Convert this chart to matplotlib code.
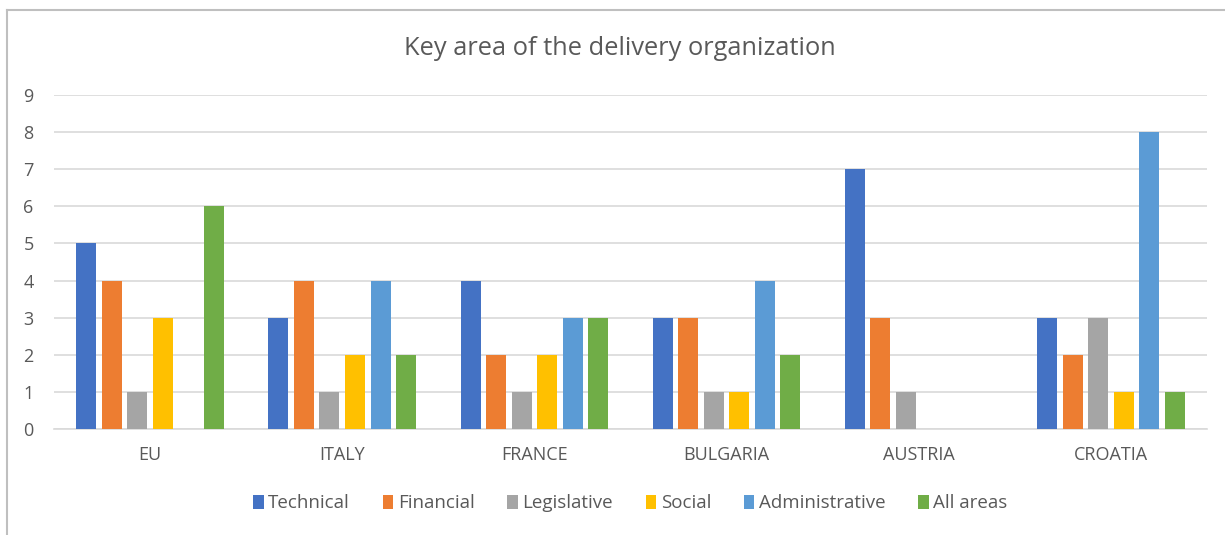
import numpy as np
import matplotlib.pyplot as plt
from matplotlib.lines import Line2D

# chart data
countries = ['EU', 'ITALY', 'FRANCE', 'BULGARIA', 'AUSTRIA', 'CROATIA']
series_names = ['Technical', 'Financial', 'Legislative', 'Social', 'Administrative', 'All areas']
technical      = [5, 3, 4, 3, 7, 3]
financial      = [4, 4, 2, 3, 3, 2]
legislative    = [1, 1, 1, 1, 1, 3]
social         = [3, 2, 2, 1, 0, 1]
administrative = [0, 4, 3, 4, 0, 8]
all_areas      = [6, 2, 3, 2, 0, 1]

colors = ['#4472C4', '#ED7D31', '#A5A5A5', '#FFC000', '#5B9BD5', '#70AD47']
values = [technical, financial, legislative, social, administrative, all_areas]

plt.rcParams['font.family'] = ['Open Sans', 'DejaVu Sans']

fig = plt.figure( figsize=(12.25, 5.35), dpi=100 )
ax = fig.add_axes( [0.0441, 0.198, 0.9412, 0.6244] )

x = np.arange( len(countries) )
pitch = 0.133
width = 0.104
for i, (name, vals) in enumerate( zip(series_names, values) ):
    offs = (i - 2.5) * pitch
    ax.bar( x + offs, vals, width, color=colors[i], label=name, zorder=3 )

ax.set_xlim( -0.5, len(countries) - 0.5 )
ax.set_ylim( 0, 9 )
ax.set_yticks( range(0, 10) )
ax.set_xticks( x )
ax.set_xticklabels( countries )

ax.grid( axis='y', color='#D9D9D9', linewidth=1.2, zorder=0 )
for s in ['top', 'right', 'left']:
    ax.spines[s].set_visible( False )
ax.spines['bottom'].set_color( '#D9D9D9' )
ax.spines['bottom'].set_linewidth( 1.2 )
ax.tick_params( axis='both', length=0, labelsize=13, colors='#595959' )
ax.tick_params( axis='x', pad=12 )
ax.tick_params( axis='y', pad=22 )
for lbl in ax.get_yticklabels():
    lbl.set_horizontalalignment( 'left' )

fig.text( 0.506, 0.909, 'Key area of the delivery organization', ha='center', va='center',
          fontsize=18.3, color='#595959' )

ax.legend( loc='center', bbox_to_anchor=(0.5, -0.222), ncol=6, frameon=False,
           fontsize=13.5, labelcolor='#595959', handlelength=0.55, handleheight=0.8,
           handletextpad=0.25, columnspacing=1.75 )

# chart border (left and top edges only visible in the reference)
fig.add_artist( Line2D( [0.0055, 0.0055], [0.0, 0.981], color='#BFBFBF', linewidth=1.5 ) )
fig.add_artist( Line2D( [0.0055, 1.0], [0.981, 0.981], color='#BFBFBF', linewidth=1.5 ) )

fig.savefig( 'out.png', dpi=100 )
